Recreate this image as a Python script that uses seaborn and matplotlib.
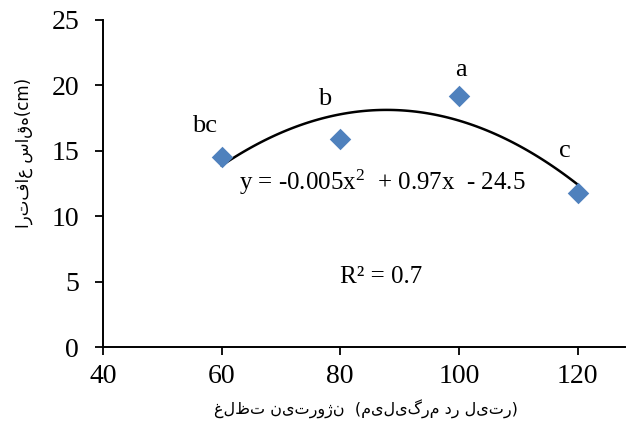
import matplotlib
matplotlib.use("Agg")
import matplotlib.pyplot as plt
import seaborn as sns
import pandas as pd

# data
nitrogen = [60, 80, 100, 120]
height = [14.5, 15.9, 19.2, 11.8]
letters = ["bc", "b", "a", "c"]
letter_pos_x = [57.1, 77.4, 100.3, 117.8]
letter_pos_y = [16.45, 18.5, 20.7, 14.56]
x_ticks = [40, 60, 80, 100, 120]
y_ticks = [0, 5, 10, 15, 20, 25]
equation = "y = -0.005x$^2$  + 0.97x  - 24.5"
r2_text = "R² = 0.7"
x_label = "غلظت نیتروژن  (میلی‌گرم در لیتر)"
y_label = "ارتفاع ساقه(cm)"

df = pd.DataFrame({"x": nitrogen, "y": height})

sns.set_theme(style="white")
plt.rcParams['font.family'] = ['Liberation Serif', 'DejaVu Sans']
plt.rcParams['mathtext.fontset'] = 'custom'
plt.rcParams['mathtext.rm'] = 'Liberation Serif'
plt.rcParams['mathtext.it'] = 'Liberation Serif'
plt.rcParams['text.color'] = 'black'
plt.rcParams['axes.labelcolor'] = 'black'
plt.rcParams['xtick.color'] = 'black'
plt.rcParams['ytick.color'] = 'black'

fig = plt.figure(figsize=(6.27, 4.23), dpi=100)
ax = fig.add_axes([0.164, 0.179, 0.833, 0.774])

sns.regplot(data=df, x="x", y="y", order=2, ci=None, scatter=False,
            truncate=True, color="black", line_kws={"linewidth": 1.8}, ax=ax)
sns.scatterplot(data=df, x="x", y="y", marker="D", s=120, color="#4F81BD",
                edgecolor="#4F81BD", linewidth=0, zorder=5, ax=ax)

for t, lx, ly in zip(letters, letter_pos_x, letter_pos_y):
    ax.text(lx, ly, t, fontsize=19, ha="center", va="baseline")

ax.text(87.1, 12.0, equation, fontsize=18, ha="center", va="baseline")
ax.text(86.9, 4.92, r2_text, fontsize=18, ha="center", va="baseline")

ax.set_xlim(40, 128)
ax.set_ylim(0, 25)
ax.set_xticks(x_ticks)
ax.set_yticks(y_ticks)
ax.tick_params(axis="both", direction="out", length=6, width=1.3,
               labelsize=20, color="black", bottom=True, left=True)
ax.tick_params(axis="x", pad=6)
ax.tick_params(axis="y", pad=11)
for s in ["top", "right"]:
    ax.spines[s].set_visible(False)
for s in ["left", "bottom"]:
    ax.spines[s].set_color("black")
    ax.spines[s].set_linewidth(1.4)

ax.set_xlabel(x_label, fontsize=11.5, family=["DejaVu Sans"])
ax.set_ylabel(y_label, fontsize=12, family=["DejaVu Sans"])
ax.xaxis.set_label_coords(0.504, -0.16)
ax.yaxis.set_label_coords(-0.1335, 0.593)

fig.savefig("out.png", dpi=100)
